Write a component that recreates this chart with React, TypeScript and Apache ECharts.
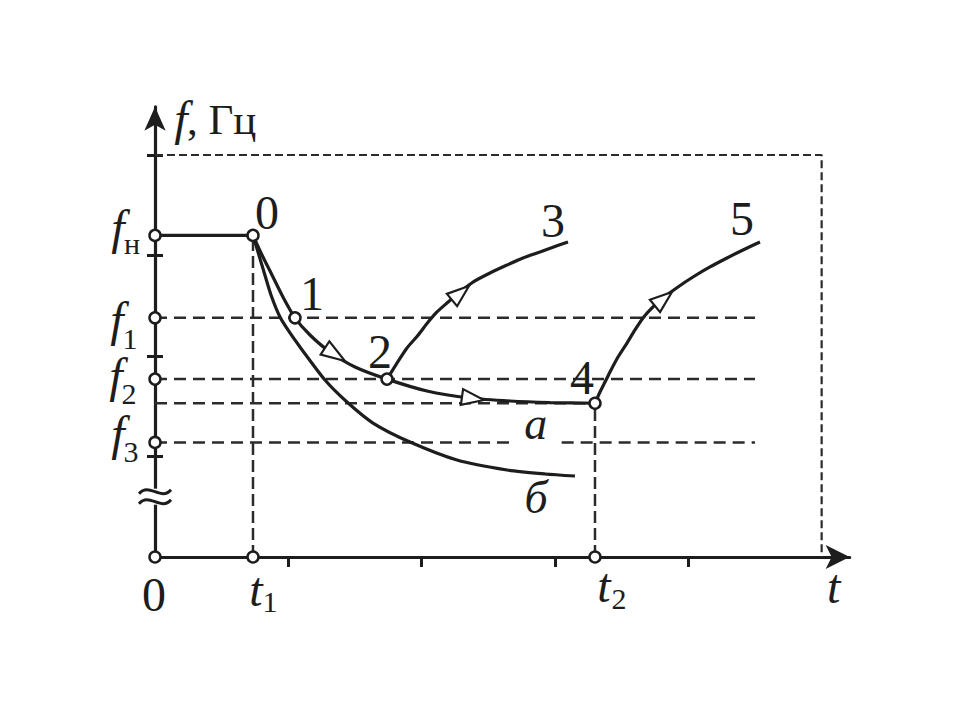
import React, { useEffect, useRef } from "react";
import * as echarts from "echarts";

// ---- axis ranges and ticks (data units) ----
const X_MAX = 5.21;
const Y_MAX = 4.48;
const X_TICKS = [1, 2, 3, 4];
const Y_TICKS = [1, 2, 3, 4];

// ---- frequency levels and time marks ----
const F_H = 3.2;
const F1 = 2.38;
const F2 = 1.77;
const F_A = 1.53;
const F3 = 1.14;
const T1 = 0.735;
const T2 = 3.3;
const FRAME_X = 5;
const FRAME_Y = 4;
const LEVEL_END = 4.5;
const BREAK_AT = 0.6;
const F3_GAP = [2.685, 3.05];

// ---- curves ----
const NOMINAL: number[][] = [[0, F_H], [T1, F_H]];
const CURVE_A: number[][] = [
  [0.735, 3.2], [0.8025, 3.005], [0.8775, 2.806], [0.96, 2.587], [1.05, 2.38],
  [1.1625, 2.209], [1.3125, 2.04], [1.5, 1.891], [1.74, 1.77], [2.04, 1.652],
  [2.3625, 1.582], [2.6625, 1.552], [2.9625, 1.537], [3.3, 1.53],
];
const CURVE_B: number[][] = [
  [0.735, 3.2], [0.7725, 3.035], [0.8175, 2.836], [0.87, 2.607], [0.9375, 2.388],
  [1.0125, 2.229], [1.0875, 2.09], [1.275, 1.761], [1.44, 1.542], [1.635, 1.333],
  [1.9125, 1.144], [2.265, 0.965], [2.64, 0.866], [2.925, 0.826], [3.15, 0.806],
];
const CURVE_2_3: number[][] = [
  [1.74, 1.77], [1.815, 1.93], [1.89, 2.08], [1.965, 2.194], [2.04, 2.323],
  [2.115, 2.438], [2.19, 2.527], [2.2875, 2.637], [2.385, 2.736], [2.5125, 2.826],
  [2.64, 2.905], [2.76, 2.975], [2.8875, 3.035], [3.0, 3.09], [3.0975, 3.134],
];
const CURVE_4_5: number[][] = [
  [3.3, 1.53], [3.3375, 1.642], [3.375, 1.741], [3.4125, 1.841], [3.4725, 1.99],
  [3.54, 2.129], [3.6, 2.259], [3.66, 2.378], [3.7275, 2.478], [3.81, 2.577],
  [3.9225, 2.687], [4.035, 2.786], [4.1625, 2.886], [4.29, 2.975], [4.41, 3.055],
  [4.5375, 3.134],
];

// ---- marked points ----
const STATE_POINTS: number[][] = [[T1, F_H], [1.05, F1], [1.74, F2], [T2, F_A]];
const AXIS_POINTS: number[][] = [[0, F_H], [0, F1], [0, F2], [0, F3], [0, 0], [T1, 0], [T2, 0]];

// ---- direction arrows: [baseX, baseY, tipX, tipY] ----
const ARROWS: number[][] = [
  [1.275, 2.08, 1.425, 1.95],
  [2.3025, 1.592, 2.4675, 1.562],
  [2.2275, 2.557, 2.355, 2.697],
  [3.75, 2.498, 3.8775, 2.637],
];

// ---- guide lines ----
const FRAME: number[][] = [[0, FRAME_Y], [FRAME_X, FRAME_Y], [FRAME_X, 0]];
const LEVEL_LINES: number[][][] = [
  [[0, F1], [LEVEL_END, F1]],
  [[0, F2], [LEVEL_END, F2]],
  [[0, F_A], [T2, F_A]],
  [[0, F3], [F3_GAP[0], F3]],
  [[F3_GAP[1], F3], [LEVEL_END, F3]],
];
const TIME_LINES: number[][][] = [
  [[T1, 0], [T1, F_H]],
  [[T2, 0], [T2, F_A]],
];

const END_23 = CURVE_2_3[CURVE_2_3.length - 1];
const END_45 = CURVE_4_5[CURVE_4_5.length - 1];
const END_B = CURVE_B[CURVE_B.length - 1];

// ---- text labels (anchor in data units; parts: text, dx, dy, kind) ----
type Part = [string, number, number, string];
const LABELS: { at: number[]; parts: Part[] }[] = [
  { at: [T1, F_H], parts: [["0", 14, -23, "num"]] },
  { at: [1.05, F1], parts: [["1", 17, -24, "num"]] },
  { at: [1.74, F2], parts: [["2", -7, -28, "num"]] },
  { at: END_23, parts: [["3", -15, -22, "num"]] },
  { at: [T2, F_A], parts: [["4", -13, -26, "num"]] },
  { at: END_45, parts: [["5", -18, -24, "num"]] },
  { at: [0, 0], parts: [["0", -1, 37, "num"]] },
  { at: [T1, 0], parts: [["t", 3, 32, "ital"], ["1", 17, 44, "sub"]] },
  { at: [T2, 0], parts: [["t", 9, 28, "ital"], ["2", 24, 41, "sub"]] },
  { at: [X_MAX, 0], parts: [["t", -16, 29, "ital"]] },
  { at: [0, F_H], parts: [["f", -37, -8, "ital"], ["н", -23, 8, "sub"]] },
  { at: [0, F1], parts: [["f", -38, 2, "ital"], ["1", -25, 21, "sub"]] },
  { at: [0, F2], parts: [["f", -39, -3.5, "ital"], ["2", -26, 14, "sub"]] },
  { at: [0, F3], parts: [["f", -37, -8.5, "ital"], ["3", -24, 9, "sub"]] },
  { at: [0, Y_MAX], parts: [["f", 26, 11.7, "ital"], [", Гц", 32, 12.7, "unit"]] },
  { at: [2.87, F3], parts: [["а", -2, -19, "letter"]] },
  { at: END_B, parts: [["б", -39, 22, "letter"]] },
];

const INK = "#1d1d1d";
const DASH_INK = "#2b2b2b";
const SERIF = "Liberation Serif, serif";
const X_PX = 133.33;
const Y_PX = 100.5;
const ORIGIN_X = 155;
const ORIGIN_Y = 557;

const FONTS: Record<string, any> = {
  num: { fontSize: 48, fontStyle: "normal", align: "center" },
  ital: { fontSize: 48, fontStyle: "italic", align: "center" },
  letter: { fontSize: 46, fontStyle: "italic", align: "center" },
  sub: { fontSize: 30, fontStyle: "normal", align: "center" },
  unit: { fontSize: 43, fontStyle: "normal", align: "left" },
};

function dashedSeries(points: number[][], dash: number[], width: number) {
  return {
    type: "line",
    data: points,
    symbol: "none",
    silent: true,
    z: 1,
    lineStyle: { color: DASH_INK, width, type: dash },
  };
}

function curveSeries(points: number[][]) {
  return {
    type: "line",
    data: points,
    symbol: "none",
    silent: true,
    smooth: 0.25,
    z: 2,
    lineStyle: { color: INK, width: 3.2 },
  };
}

export default function App() {
  const ref = useRef<HTMLDivElement>(null);

  useEffect(() => {
    if (!ref.current) return;
    const chart = echarts.init(ref.current, undefined, { renderer: "svg" });

    const option: any = {
      animation: false,
      backgroundColor: "#ffffff",
      textStyle: { fontFamily: SERIF },
      grid: {
        left: ORIGIN_X,
        top: ORIGIN_Y - Y_MAX * Y_PX,
        width: X_MAX * X_PX,
        height: Y_MAX * Y_PX,
        containLabel: false,
        outerBoundsMode: "none",
      },
      xAxis: {
        type: "value",
        min: 0,
        max: X_MAX,
        axisLine: {
          show: true,
          onZero: false,
          symbol: ["none", "arrow"],
          symbolSize: [18, 24],
          lineStyle: { color: INK, width: 3.2 },
        },
        axisTick: { show: true, customValues: X_TICKS, length: 10, lineStyle: { color: INK, width: 3 } },
        axisLabel: { show: false },
        splitLine: { show: false },
      },
      yAxis: [
        {
          type: "value",
          min: 0,
          max: Y_MAX,
          axisLine: {
            show: true,
            onZero: false,
            symbol: ["none", "arrow"],
            symbolSize: [16, 24],
            lineStyle: { color: INK, width: 3.2 },
          },
          axisTick: { show: true, customValues: Y_TICKS, length: 8, lineStyle: { color: INK, width: 3 } },
          axisLabel: { show: false },
          splitLine: { show: false },
        },
        {
          type: "value",
          min: 0,
          max: Y_MAX,
          position: "left",
          offset: 0,
          axisLine: { show: false },
          axisTick: { show: true, inside: true, customValues: Y_TICKS, length: 8, lineStyle: { color: INK, width: 3 } },
          axisLabel: { show: false },
          splitLine: { show: false },
        },
      ],
      series: [
        dashedSeries(FRAME, [8, 4], 2.2),
        ...LEVEL_LINES.map((seg) => dashedSeries(seg, [12, 7], 2.5)),
        ...TIME_LINES.map((seg) => dashedSeries(seg, [12, 5], 2.5)),
        {
          type: "line",
          data: NOMINAL,
          symbol: "none",
          silent: true,
          z: 2,
          lineStyle: { color: INK, width: 3.2 },
        },
        curveSeries(CURVE_A),
        curveSeries(CURVE_B),
        curveSeries(CURVE_2_3),
        curveSeries(CURVE_4_5),
        {
          type: "custom",
          data: ARROWS,
          silent: true,
          z: 3,
          renderItem: (params: any, api: any) => {
            const b = api.coord([api.value(0), api.value(1)]);
            const t = api.coord([api.value(2), api.value(3)]);
            const dx = t[0] - b[0];
            const dy = t[1] - b[1];
            const len = Math.sqrt(dx * dx + dy * dy) || 1;
            const nx = -dy / len;
            const ny = dx / len;
            const w = 8;
            return {
              type: "polygon",
              shape: {
                points: [
                  [t[0], t[1]],
                  [b[0] + nx * w, b[1] + ny * w],
                  [b[0] - nx * w, b[1] - ny * w],
                ],
              },
              style: { fill: "#ffffff", stroke: INK, lineWidth: 2.2 },
            };
          },
        },
        {
          type: "custom",
          data: [[0, BREAK_AT]],
          silent: true,
          z: 3,
          renderItem: (params: any, api: any) => {
            const p = api.coord([api.value(0), api.value(1)]);
            const tilde = (oy: number) => ({
              type: "bezierCurve",
              shape: {
                x1: p[0] - 16, y1: p[1] + oy + 2,
                cpx1: p[0] - 6, cpy1: p[1] + oy - 10,
                cpx2: p[0] + 6, cpy2: p[1] + oy + 10,
                x2: p[0] + 16, y2: p[1] + oy - 2,
              },
              style: { stroke: INK, lineWidth: 3, fill: null },
            });
            return {
              type: "group",
              children: [
                { type: "rect", shape: { x: p[0] - 5, y: p[1] - 8, width: 10, height: 16 }, style: { fill: "#ffffff" } },
                tilde(-5),
                tilde(5),
              ],
            };
          },
        },
        {
          type: "scatter",
          data: [...STATE_POINTS, ...AXIS_POINTS],
          symbol: "circle",
          symbolSize: 11,
          silent: true,
          z: 4,
          itemStyle: { color: "#ffffff", borderColor: INK, borderWidth: 2.5, opacity: 1 },
        },
        {
          type: "custom",
          data: LABELS.map((l) => l.at),
          silent: true,
          z: 5,
          renderItem: (params: any, api: any) => {
            const p = api.coord([api.value(0), api.value(1)]);
            const L = LABELS[params.dataIndex];
            return {
              type: "group",
              children: L.parts.map(([text, dx, dy, kind]) => {
                const f = FONTS[kind];
                return {
                  type: "text",
                  x: p[0] + dx,
                  y: p[1] + dy,
                  style: {
                    text,
                    fill: INK,
                    fontFamily: SERIF,
                    fontSize: f.fontSize,
                    fontStyle: f.fontStyle,
                    fontWeight: "normal",
                    align: f.align,
                    textAlign: f.align,
                    verticalAlign: "middle",
                    textVerticalAlign: "middle",
                  },
                };
              }),
            };
          },
        },
      ],
    };

    chart.setOption(option);
    return () => chart.dispose();
  }, []);

  return (
    <div
      ref={ref}
      style={{ position: "absolute", left: 0, top: 0, width: 960, height: 720, background: "#fff" }}
    />
  );
}
